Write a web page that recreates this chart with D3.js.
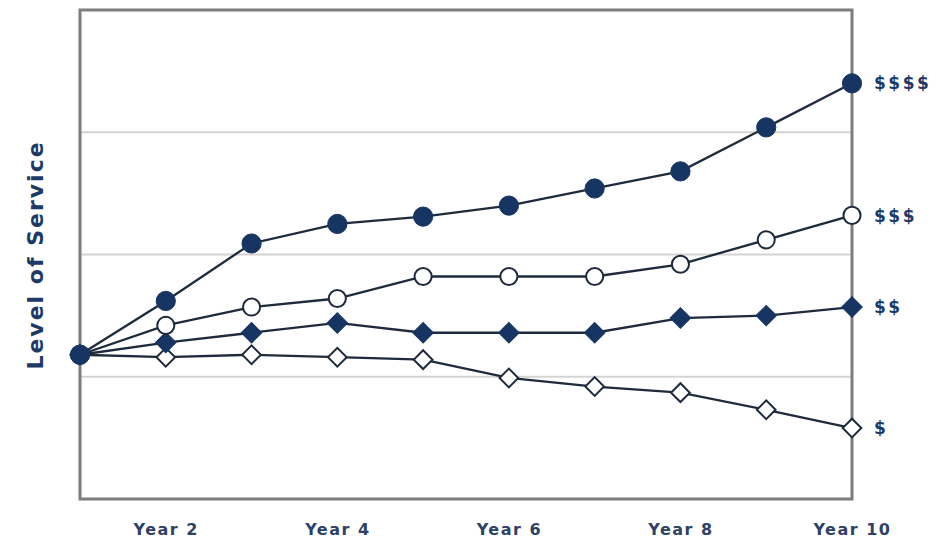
<!DOCTYPE html>
<html>
<head>
<meta charset="utf-8">
<script src="https://cdn.jsdelivr.net/npm/d3@7"></script>
<style>
  html, body { margin: 0; padding: 0; background: #fff; }
  svg { display: block; }
</style>
</head>
<body>
<svg id="chart" width="946" height="540"></svg>
<script>
// ---- data ----
const years = [1, 2, 3, 4, 5, 6, 7, 8, 9, 10];
const tickYears = [2, 4, 6, 8, 10];
const tickLabels = ["Year 2", "Year 4", "Year 6", "Year 8", "Year 10"];
const gridValues = [1, 2, 3];
const seriesNames = ["$", "$$", "$$$", "$$$$"];
const serviceS    = [1.18, 1.16, 1.18, 1.16, 1.14, 0.99, 0.92, 0.87, 0.73, 0.58];
const serviceSS   = [1.18, 1.28, 1.36, 1.44, 1.36, 1.36, 1.36, 1.48, 1.50, 1.57];
const serviceSSS  = [1.18, 1.42, 1.57, 1.64, 1.82, 1.82, 1.82, 1.92, 2.12, 2.32];
const serviceSSSS = [1.18, 1.62, 2.09, 2.25, 2.31, 2.40, 2.54, 2.68, 3.04, 3.40];
const yAxisTitle = "Level of Service";

// ---- layout ----
const svg = d3.select("#chart");
const mLeft = 80, mRight = 852, mTop = 10, mBottom = 499;
const x = d3.scaleLinear().domain([1, 10]).range([mLeft, mRight]);
const y = d3.scaleLinear().domain([0, 4]).range([mBottom, mTop]);

const navy = "#173563";
const lineColor = "#1e2b3d";

// gridlines
svg.append("g").selectAll("line").data(gridValues).join("line")
  .attr("x1", mLeft).attr("x2", mRight)
  .attr("y1", d => y(d)).attr("y2", d => y(d))
  .attr("stroke", "#d4d4d4").attr("stroke-width", 2);

// frame
svg.append("rect")
  .attr("x", mLeft).attr("y", mTop)
  .attr("width", mRight - mLeft).attr("height", mBottom - mTop)
  .attr("fill", "none").attr("stroke", "#7d7d7d").attr("stroke-width", 3);

// x axis labels
const xAxis = d3.axisBottom(x)
  .tickValues(tickYears)
  .tickFormat((d, i) => tickLabels[i])
  .tickSize(0).tickPadding(25);
const gx = svg.append("g").attr("transform", `translate(0,${mBottom})`).call(xAxis);
gx.select(".domain").remove();
gx.selectAll("text")
  .attr("font-family", "DejaVu Sans, sans-serif")
  .attr("font-weight", "bold")
  .attr("font-size", 16)
  .attr("letter-spacing", 1.5)
  .attr("fill", "#2d4266");

// y axis title
svg.append("text")
  .attr("transform", `translate(43,255) rotate(-90)`)
  .attr("text-anchor", "middle")
  .attr("font-family", "DejaVu Sans, sans-serif")
  .attr("font-weight", "bold")
  .attr("font-size", 22)
  .attr("letter-spacing", 2)
  .attr("fill", "#1d3a66")
  .text(yAxisTitle);

// series
const series = [
  { name: seriesNames[0], values: serviceS,    shape: "diamond", filled: false },
  { name: seriesNames[1], values: serviceSS,   shape: "diamond", filled: true },
  { name: seriesNames[2], values: serviceSSS,  shape: "circle",  filled: false },
  { name: seriesNames[3], values: serviceSSSS, shape: "circle",  filled: true }
];

const line = d3.line().x((d, i) => x(years[i])).y(d => y(d));

series.forEach(s => {
  svg.append("path")
    .attr("d", line(s.values))
    .attr("fill", "none")
    .attr("stroke", lineColor)
    .attr("stroke-width", 2.3);
});

const circleSym = d3.symbol().type(d3.symbolCircle);
const squareSym = d3.symbol().type(d3.symbolSquare);

series.forEach(s => {
  const g = svg.append("g");
  g.selectAll("path").data(s.values).join("path")
    .attr("d", s.shape === "circle"
      ? circleSym.size(s.filled ? 290 : 230)()
      : squareSym.size(s.filled ? 210 : 175)())
    .attr("transform", (d, i) =>
      `translate(${x(years[i])},${y(d)})` + (s.shape === "diamond" ? " rotate(45)" : ""))
    .attr("fill", s.filled ? navy : "#fff")
    .attr("stroke", s.filled ? navy : lineColor)
    .attr("stroke-width", s.filled ? 1 : 2);
  // end label
  svg.append("text")
    .attr("x", x(years[years.length - 1]) + 22)
    .attr("y", y(s.values[s.values.length - 1]))
    .attr("dy", "0.36em")
    .attr("font-family", "DejaVu Sans, sans-serif")
    .attr("font-weight", "bold")
    .attr("font-size", 17)
    .attr("letter-spacing", 2.5)
    .attr("fill", "#1d3a66")
    .text(s.name);
});

// Year 1 start point drawn on top as filled circle
svg.append("path")
  .attr("d", circleSym.size(310)())
  .attr("transform", `translate(${x(years[0])},${y(serviceSSSS[0])})`)
  .attr("fill", navy);
</script>
</body>
</html>
